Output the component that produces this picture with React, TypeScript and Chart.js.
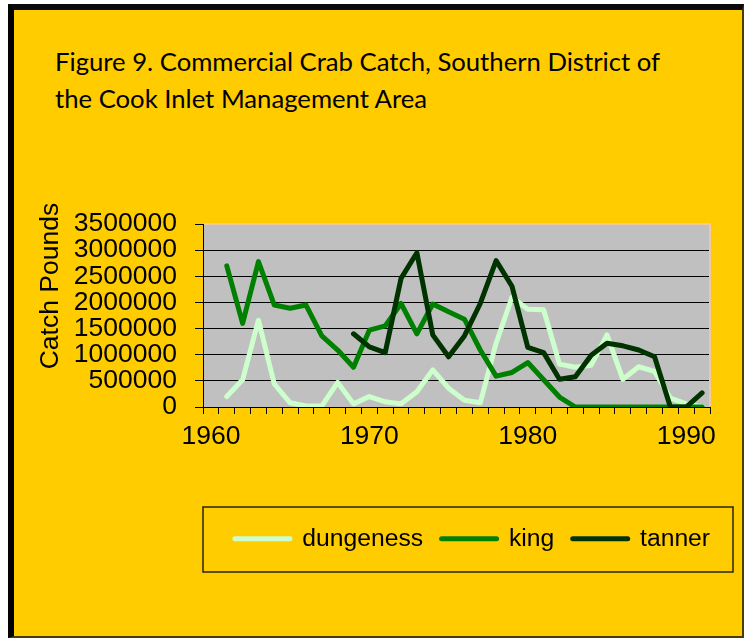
import React, { useEffect, useLayoutEffect, useRef } from "react";
import { Chart, registerables } from "chart.js";

Chart.register(...registerables);

const years = [
  "1960", "1961", "1962", "1963", "1964", "1965", "1966", "1967", "1968", "1969",
  "1970", "1971", "1972", "1973", "1974", "1975", "1976", "1977", "1978", "1979",
  "1980", "1981", "1982", "1983", "1984", "1985", "1986", "1987", "1988", "1989",
  "1990", "1991",
];
const labeledYears = ["1960", "1970", "1980", "1990"];

const dungeness = [
  null, 200000, 520000, 1660000, 440000, 80000, 20000, 20000, 470000, 60000,
  200000, 100000, 60000, 290000, 710000, 360000, 130000, 80000, 1220000, 2100000,
  1870000, 1860000, 820000, 760000, 800000, 1380000, 530000, 770000, 680000, 170000,
  60000, 0,
];
const king = [
  null, 2700000, 1600000, 2780000, 1950000, 1890000, 1950000, 1360000, 1090000, 760000,
  1470000, 1550000, 1980000, 1400000, 1970000, 1820000, 1680000, 1090000, 590000, 660000,
  850000, 520000, 190000, 0, 0, 0, 0, 0, 0, 0,
  0, 0,
];
const tanner = [
  null, null, null, null, null, null, null, null, null, 1400000,
  1150000, 1040000, 2460000, 2950000, 1380000, 960000, 1360000, 1980000, 2800000, 2310000,
  1140000, 1040000, 530000, 580000, 990000, 1220000, 1170000, 1090000, 960000, 0,
  0, 270000,
];

const seriesNames = ["dungeness", "king", "tanner"];
const seriesColors = ["#CCFFCC", "#008000", "#003300"];

const yMin = 0;
const yMax = 3500000;
const yStep = 500000;

const FONT = "'Liberation Sans', Arial, sans-serif";

export default function App() {
  const canvasRef = useRef<HTMLCanvasElement>(null);
  const titleRef = useRef<HTMLDivElement>(null);

  useLayoutEffect(() => {
    const el = titleRef.current;
    if (!el) return;
    el.style.transform = "none";
    const w = el.getBoundingClientRect().width;
    if (w > 0) el.style.transform = `scaleX(${605 / w})`;
  }, []);

  useEffect(() => {
    const canvas = canvasRef.current;
    if (!canvas) return;

    const defaultGen = Chart.defaults.plugins.legend.labels.generateLabels;

    const framePlugin = {
      id: "framePlugin",
      beforeDraw(chart: any) {
        const { ctx, chartArea: a } = chart;
        ctx.save();
        ctx.fillStyle = "#C0C0C0";
        ctx.fillRect(a.left, a.top, a.right - a.left, a.bottom - a.top);
        ctx.restore();
        const lg = chart.legend;
        if (lg) {
          lg.left = a.left;
          lg.right = chart.width;
          lg.top = a.bottom + 101;
          lg.bottom = lg.top + lg.height;
        }
      },
      beforeDatasetsDraw(chart: any) {
        const { ctx, chartArea: a } = chart;
        ctx.save();
        ctx.strokeStyle = "#F2C8A0";
        ctx.lineWidth = 2;
        ctx.beginPath();
        ctx.moveTo(a.left + 1, a.top);
        ctx.lineTo(a.right, a.top);
        ctx.lineTo(a.right, a.bottom - 1);
        ctx.stroke();
        ctx.restore();
      },
      afterDraw(chart: any) {
        const { ctx, chartArea: a } = chart;
        ctx.save();
        ctx.strokeStyle = "#2a2400";
        ctx.lineWidth = 1.5;
        ctx.strokeRect(a.left, a.bottom + 100, a.right + 23 - a.left, 65);
        ctx.restore();
      },
    };

    const datasets = [dungeness, king, tanner].map((data, i) => ({
      label: seriesNames[i],
      data,
      borderColor: seriesColors[i],
      backgroundColor: seriesColors[i],
      borderWidth: 5,
      borderCapStyle: "round" as const,
      borderJoinStyle: "round" as const,
      pointRadius: 0,
      pointHoverRadius: 0,
      tension: 0,
      spanGaps: false,
      order: 3 - i,
    }));

    const chart = new Chart(canvas, {
      type: "line",
      data: { labels: years, datasets },
      options: {
        animation: false,
        responsive: false,
        events: [],
        layout: { padding: { top: 44, left: 0, right: 32, bottom: 0 } },
        plugins: {
          title: { display: false },
          tooltip: { enabled: false },
          legend: {
            display: true,
            position: "bottom",
            labels: {
              usePointStyle: true,
              pointStyle: "line",
              pointStyleWidth: 55,
              padding: 18.5,
              color: "#000",
              font: { family: FONT, size: 24.7 },
              sort: (a: any, b: any) => a.datasetIndex - b.datasetIndex,
              generateLabels: (c: any) =>
                defaultGen(c).map((l: any) => ({
                  ...l,
                  lineWidth: 5,
                  strokeStyle: seriesColors[l.datasetIndex],
                  fillStyle: seriesColors[l.datasetIndex],
                  lineCap: "round",
                })),
            },
          },
        },
        scales: {
          x: {
            type: "category",
            offset: true,
            afterFit: (s: any) => {
              const lh = s.chart.legend ? s.chart.legend.height : 0;
              s.height = s.chart.height - 227 - lh;
            },
            grid: {
              display: true,
              drawOnChartArea: false,
              drawTicks: true,
              offset: true,
              tickLength: 7,
              color: "#000",
              tickColor: "#000",
            },
            border: { display: true, color: "#000", width: 1 },
            ticks: {
              autoSkip: false,
              maxRotation: 0,
              minRotation: 0,
              padding: 7,
              color: "#000",
              font: { family: FONT, size: 26.5 },
              callback: (_v: any, idx: number) =>
                labeledYears.includes(years[idx]) ? years[idx] : "",
            },
          },
          y: {
            min: yMin,
            max: yMax,
            afterFit: (s: any) => {
              s.width = 189;
            },
            grid: {
              color: (ctx: any) =>
                ctx.tick && ctx.tick.value === yMax ? "rgba(0,0,0,0)" : "#000",
              tickColor: "#000",
              lineWidth: 1,
              tickLength: 8,
            },
            border: { display: true, color: "#000", width: 1 },
            ticks: {
              stepSize: yStep,
              autoSkip: false,
              padding: 18,
              color: "#000",
              font: { family: FONT, size: 26.5 },
              callback: (v: any) => String(v),
            },
            title: {
              display: true,
              text: "        Catch Pounds",
              color: "#000",
              font: { family: FONT, size: 26.5 },
              padding: { top: 21, bottom: 0 },
            },
          },
        },
      },
      plugins: [framePlugin],
    });

    return () => chart.destroy();
  }, []);

  return (
    <div
      style={{
        position: "absolute",
        left: 8,
        top: 4,
        width: 736,
        height: 634,
        boxSizing: "border-box",
        background: "#FFCC00",
        borderLeft: "6px solid #000",
        borderTop: "6px solid #0a0a0a",
        borderRight: "2px solid #4a3d00",
        borderBottom: "2px solid #4a3d00",
      }}
    >
      <div
        ref={titleRef}
        style={{
          position: "absolute",
          left: 41,
          top: 33,
          display: "inline-block",
          whiteSpace: "nowrap",
          fontFamily: "Lato, 'Open Sans', sans-serif",
          fontSize: 25,
          lineHeight: "37px",
          color: "#000",
          transformOrigin: "left top",
        }}
      >
        Figure 9. Commercial Crab Catch, Southern District of
        <br />
        the Cook Inlet Management Area
      </div>
      <canvas
        ref={canvasRef}
        width={728}
        height={456}
        style={{ position: "absolute", left: 0, top: 170, display: "block", width: 728, height: 456 }}
      />
    </div>
  );
}
